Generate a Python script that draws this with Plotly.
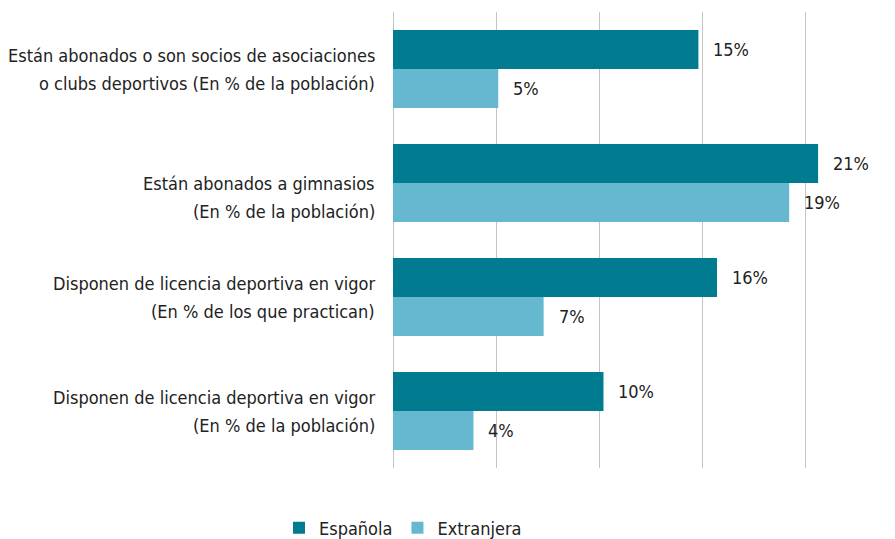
import plotly.graph_objects as go

categories = [
    "Están abonados o son socios de asociaciones<br>o clubs deportivos (En % de la población)",
    "<br>Están abonados a gimnasios <br>(En % de la población)",
    "Disponen de licencia deportiva en vigor<br>(En % de los que practican)",
    "Disponen de licencia deportiva en vigor<br>(En % de la población)",
]
series_names = ["Española", "Extranjera"]
espanola = [14.8, 20.6, 15.7, 10.2]
extranjera = [5.1, 19.2, 7.3, 3.9]
x_ticks = [0, 5, 10, 15, 20]

FONT = "DejaVu Sans Condensed, Roboto, sans-serif"
TXT = "#222222"
SIZE = 18
LINE_H = 28
colors = ["#007B8F", "#66B8D0"]

fig = go.Figure()
for name, vals, col in zip(series_names, [espanola, extranjera], colors):
    fig.add_trace(go.Bar(
        y=categories, x=vals, name=name, orientation="h",
        marker=dict(color=col, line=dict(width=0)),
        hoverinfo="x+name",
    ))

annotations = []
# value labels
for i, vals in enumerate([espanola, extranjera]):
    shift = 19.5 if i == 0 else -19.5
    for cat, v in zip(categories, vals):
        annotations.append(dict(
            x=v, y=cat, xref="x", yref="y", text=f"{v:.0f}%",
            showarrow=False, xanchor="left", yanchor="middle",
            xshift=13, yshift=shift,
            font=dict(family=FONT, size=SIZE, color=TXT),
        ))
# category labels, one annotation per line
for cat in categories:
    lines = cat.split("<br>")
    k = len(lines)
    for j, line in enumerate(lines):
        if not line.strip():
            continue
        annotations.append(dict(
            x=0, y=cat, xref="paper", yref="y", text=line.strip(),
            showarrow=False, xanchor="right", yanchor="middle",
            xshift=-16, yshift=-(j - (k - 1) / 2) * LINE_H,
            font=dict(family=FONT, size=SIZE, color=TXT),
        ))

# the page body adds an 8px offset, so the figure is sized to fit the window
fig.update_layout(
    width=887, height=531,
    margin=dict(l=385, r=15, t=4, b=71, autoexpand=False),
    paper_bgcolor="white", plot_bgcolor="white",
    barmode="group", bargap=0.316, bargroupgap=0,
    font=dict(family=FONT, size=SIZE, color=TXT),
    xaxis=dict(range=[0, 23.6], tickvals=x_ticks, showticklabels=False,
               showgrid=True, gridcolor="#c4c4c4", gridwidth=1,
               zeroline=True, zerolinecolor="#c4c4c4", zerolinewidth=1,
               showline=False, fixedrange=True, automargin=False),
    yaxis=dict(autorange="reversed", showgrid=False, showline=False,
               ticks="", showticklabels=False, automargin=False),
    legend=dict(orientation="h", xref="paper", yref="paper",
                x=0.0205, y=-0.1316, xanchor="center", yanchor="middle",
                font=dict(family=FONT, size=SIZE, color=TXT),
                itemclick=False, itemdoubleclick=False),
    annotations=annotations,
    showlegend=True,
)

fig.write_html("out.html")
